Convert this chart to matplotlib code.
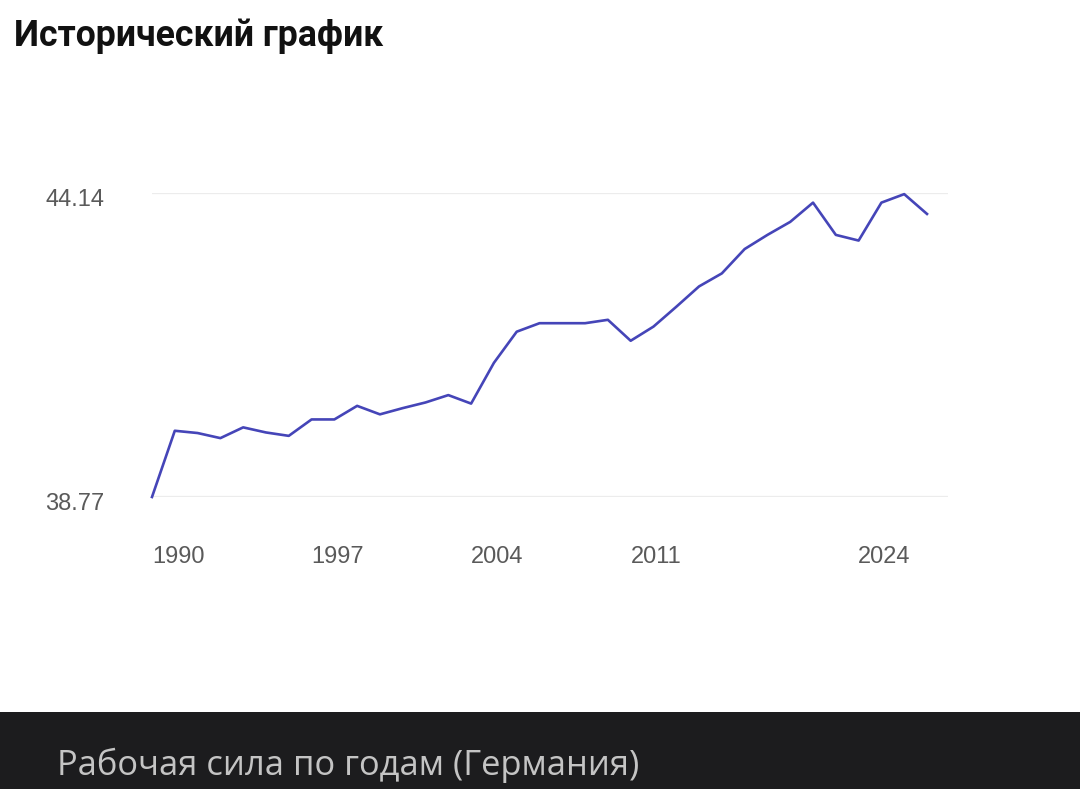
import numpy as np
import matplotlib.pyplot as plt
import matplotlib.transforms as mtransforms
from matplotlib.patches import Rectangle

# рабочая сила Германии, млн человек (оценка по графику)
years = list(range(1990, 2025))
labour = [38.77, 39.94, 39.90, 39.81, 40.00, 39.91, 39.85, 40.14, 40.14, 40.38,
          40.23, 40.34, 40.44, 40.57, 40.42, 41.14, 41.69, 41.84, 41.84, 41.84,
          41.90, 41.53, 41.78, 42.13, 42.49, 42.72, 43.15, 43.40, 43.63, 43.97,
          43.40, 43.30, 43.97, 44.12, 43.77]
y_ticks = [38.77, 44.14]
x_ticks = [1990, 1997, 2004, 2011, 2024]

plt.rcParams['font.family'] = ['Liberation Sans', 'DejaVu Sans']

fig = plt.figure(figsize=(10.8, 7.89), dpi=100)
fig.patch.set_facecolor('white')

ax = fig.add_axes([152/1080, 292/789, 796/1080, 304/789])
ax.set_xlim(years[0], years[0] + (years[-1] - years[0]) * 796 / 775)
ax.set_ylim(y_ticks[0], y_ticks[1])

for v in y_ticks:
    ax.axhline(v, color='#ececec', lw=1.6, zorder=1)
ax.plot(years, labour, color='#4545b8', lw=1.9, zorder=3, clip_on=False)

for s in ax.spines.values():
    s.set_visible(False)
ax.tick_params(length=0)
ax.set_yticks(y_ticks, [f'{v:.2f}' for v in y_ticks], fontsize=17, color='#5a5a5a')
ax.tick_params(axis='y', pad=34)
for lab in ax.get_yticklabels():
    lab.set_transform(lab.get_transform() +
                      mtransforms.ScaledTranslation(0, -4/100, fig.dpi_scale_trans))
ax.set_xticks(x_ticks, [str(x) for x in x_ticks], fontsize=17, color='#5a5a5a')
ax.tick_params(axis='x', pad=35)
labs = ax.get_xticklabels()
for i, lab in enumerate(labs):
    if i < len(labs) - 1:
        lab.set_ha('left')
    else:
        lab.set_ha('right')
        lab.set_transform(lab.get_transform() +
                          mtransforms.ScaledTranslation(-17/100, 0, fig.dpi_scale_trans))

fig.text(14/1080, 1 - 36/789, 'Исторический график', fontsize=25.7, fontweight='bold',
         family=['Roboto', 'DejaVu Sans'], color='#111111', va='center', ha='left')

fig.patches.append(Rectangle((0, 0), 1, 77/789, transform=fig.transFigure,
                             facecolor='#1c1c1e', edgecolor='none', zorder=0))
fig.text(57/1080, 24/789, 'Рабочая сила по годам (Германия)', fontsize=24.8,
         family=['Open Sans', 'DejaVu Sans'], color='#c4c4c4', va='center', ha='left')

fig.savefig('out.png', dpi=100)
